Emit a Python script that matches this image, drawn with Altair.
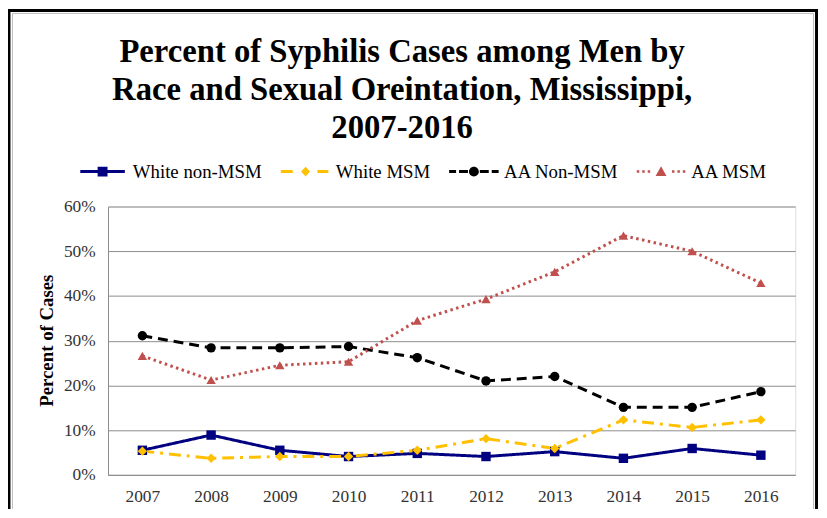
import altair as alt
import pandas as pd

years = ["2007", "2008", "2009", "2010", "2011", "2012", "2013", "2014", "2015", "2016"]
series = ["White non-MSM", "White MSM", "AA Non-MSM", "AA MSM"]
white_non_msm = [5.5, 8.9, 5.5, 4.1, 4.8, 4.1, 5.2, 3.7, 5.9, 4.4]
white_msm = [5.3, 3.7, 4.1, 4.1, 5.5, 8.1, 5.9, 12.3, 10.6, 12.3]
aa_non_msm = [31.1, 28.4, 28.4, 28.7, 26.2, 21.0, 22.0, 15.1, 15.1, 18.6]
aa_msm = [26.6, 21.2, 24.5, 25.3, 34.5, 39.3, 45.4, 53.5, 50.0, 42.9]
y_ticks = [0, 10, 20, 30, 40, 50, 60]

colors = ["#000080", "#FFC000", "#000000", "#C0504D"]
dashes = [[1, 0], [12, 6, 3, 6], [10, 6], [2.5, 3.5]]
shapes = ["square", "diamond", "circle", "triangle-up"]
legend_shapes = [
    "M-4.5,-0.3H4.5V0.3H-4.5Z M-1,-1H1V1H-1Z",
    "M-5,-0.3H-2.6V0.3H-5Z M2.4,-0.3H4.6V0.3H2.4Z M0,-1L0.9,0L0,1L-0.9,0Z",
    "M-5,-0.3H-3.6V0.3H-5Z M-3,-0.3H-1.2V0.3H-3Z M1.2,-0.3H3V0.3H1.2Z M3.6,-0.3H5V0.3H3.6Z M-1,0A1,1 0 1,0 1,0A1,1 0 1,0 -1,0Z",
    "M-4.9,-0.25H-4.4V0.25H-4.9Z M-3.8,-0.25H-3.3V0.25H-3.8Z M-2.7,-0.25H-2.2V0.25H-2.7Z M2.2,-0.25H2.7V0.25H2.2Z M3.3,-0.25H3.8V0.25H3.3Z M4.4,-0.25H4.9V0.25H4.4Z M0,-1.1L1.1,0.9H-1.1Z",
]

rows = []
for name, vals in zip(series, [white_non_msm, white_msm, aa_non_msm, aa_msm]):
    for yr, v in zip(years, vals):
        rows.append({"year": yr, "series": name, "value": v})
df = pd.DataFrame(rows)

FONT = "Liberation Serif"
GRID = "#8C8C8C"

x_enc = alt.X("year:O", sort=years, scale=alt.Scale(type="point", padding=0.5),
              axis=alt.Axis(title=None, labelAngle=0, ticks=False, domainColor=GRID,
                            labelFont=FONT, labelFontSize=17.5, labelColor="#333333",
                            labelPadding=13, grid=False))
y_enc = alt.Y("value:Q", scale=alt.Scale(domain=[0, 60], nice=False),
              axis=alt.Axis(values=y_ticks, labelExpr="datum.value + '%'", ticks=False,
                            domainColor=GRID, gridColor=GRID, gridWidth=1,
                            labelFont=FONT, labelFontSize=17.5, labelColor="#333333",
                            labelPadding=13, title="Percent of Cases", titleFont=FONT,
                            titleFontSize=19, titleFontWeight="bold", titleColor="#000000",
                            titleX=-62, titleY=135, titleAngle=270, titleBaseline="middle",
                            titleAlign="center"))

base = alt.Chart(df)

lines = base.mark_line(strokeWidth=3).encode(
    x=x_enc, y=y_enc,
    color=alt.Color("series:N", scale=alt.Scale(domain=series, range=colors), legend=None),
    strokeDash=alt.StrokeDash("series:N", scale=alt.Scale(domain=series, range=dashes), legend=None),
)

points = base.mark_point(filled=True, opacity=1, size=90).encode(
    x=x_enc, y=y_enc,
    color=alt.Color("series:N", scale=alt.Scale(domain=series, range=colors), legend=None),
    shape=alt.Shape("series:N", scale=alt.Scale(domain=series, range=shapes), legend=None),
)

leg = alt.Legend(orient="none", legendX=-15, legendY=-45, direction="horizontal", columns=4,
                 title=None, labelFont=FONT, labelFontSize=19, labelColor="#000000",
                 symbolSize=100, symbolStrokeWidth=0, labelOffset=21, columnPadding=18,
                 symbolOpacity=1)

legend_layer = base.mark_point(filled=True, opacity=1).encode(
    x=x_enc, y=y_enc,
    color=alt.Color("series:N", scale=alt.Scale(domain=series, range=colors), legend=leg),
    shape=alt.Shape("series:N", scale=alt.Scale(domain=series, range=legend_shapes), legend=leg),
).transform_filter("false")

frame_df = pd.DataFrame({"k": [0]})
frame = alt.Chart(frame_df).mark_rect(fill=None, stroke="#000000", strokeWidth=3).encode(
    x=alt.value(-100), x2=alt.value(715.5), y=alt.value(-198), y2=alt.value(330)
)
inner = alt.Chart(frame_df).mark_rect(fill=None, stroke="#BBBBBB", strokeWidth=1).encode(
    x=alt.value(-96.5), x2=alt.value(712.5), y=alt.value(-195), y2=alt.value(330)
)

chart = alt.layer(frame, inner, lines, points, legend_layer).resolve_scale(
    color="independent", shape="independent", strokeDash="independent"
).properties(
    width=694, height=271,
    autosize="none",
    padding={"left": 101, "top": 198, "right": 24, "bottom": 32},
    title=alt.TitleParams(
        text=["Percent of Syphilis Cases among Men by",
              "Race and Sexual Oreintation, Mississippi,",
              "2007-2016"],
        font=FONT, fontSize=33, fontWeight="bold", color="#000000",
        anchor="middle", dx=-50, dy=137, lineHeight=38, offset=0,
    ),
).configure_view(stroke=None).configure(background="#FFFFFF")

chart.save("out.html", embed_options={"renderer": "svg", "actions": False})
